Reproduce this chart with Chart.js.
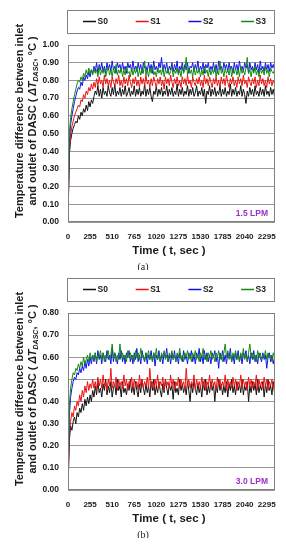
<!DOCTYPE html>
<html>
<head>
<meta charset="utf-8">
<script src="https://cdn.jsdelivr.net/npm/chart.js@4.4.1/dist/chart.umd.min.js"></script>
<style>
    html, body { margin: 0; padding: 0; background: #fff; }
    body { width: 286px; height: 550px; position: relative; overflow: hidden; }
    .panel { position: absolute; left: 0; width: 286px; height: 270px; }
</style>
</head>
<body>
<div class="panel" style="top:0"><canvas id="chartA" width="286" height="270"></canvas></div>
<div class="panel" style="top:268px"><canvas id="chartB" width="286" height="270"></canvas></div>
<script>
// Time axis (sec), shared by both panels
const timeSec = [
    0, 15, 30, 45, 60, 75, 90, 105, 120, 135,
    150, 165, 180, 195, 210, 225, 240, 255, 270, 285,
    300, 315, 330, 345, 360, 375, 390, 405, 420, 435,
    450, 465, 480, 495, 510, 525, 540, 555, 570, 585,
    600, 615, 630, 645, 660, 675, 690, 705, 720, 735,
    750, 765, 780, 795, 810, 825, 840, 855, 870, 885,
    900, 915, 930, 945, 960, 975, 990, 1005, 1020, 1035,
    1050, 1065, 1080, 1095, 1110, 1125, 1140, 1155, 1170, 1185,
    1200, 1215, 1230, 1245, 1260, 1275, 1290, 1305, 1320, 1335,
    1350, 1365, 1380, 1395, 1410, 1425, 1440, 1455, 1470, 1485,
    1500, 1515, 1530, 1545, 1560, 1575, 1590, 1605, 1620, 1635,
    1650, 1665, 1680, 1695, 1710, 1725, 1740, 1755, 1770, 1785,
    1800, 1815, 1830, 1845, 1860, 1875, 1890, 1905, 1920, 1935,
    1950, 1965, 1980, 1995, 2010, 2025, 2040, 2055, 2070, 2085,
    2100, 2115, 2130, 2145, 2160, 2175, 2190, 2205, 2220, 2235,
    2250, 2265, 2280, 2295, 2310, 2325, 2340, 2355, 2370, 2385
];
const seriesNames = ['S0', 'S1', 'S2', 'S3'];
const seriesColors = ['#111111', '#ee1111', '#1111ee', '#138a13'];
const xTickStep = 255;

// (a) 1.5 LPM
const lpm15S0 = [
    0, 0.38, 0.46, 0.50, 0.53, 0.55, 0.57, 0.56, 0.60, 0.58,
    0.62, 0.60, 0.64, 0.62, 0.66, 0.63, 0.68, 0.65, 0.69, 0.67,
    0.71, 0.74, 0.72, 0.77, 0.71, 0.75, 0.70, 0.76, 0.72, 0.74,
    0.71, 0.77, 0.73, 0.71, 0.76, 0.72, 0.78, 0.71, 0.74, 0.72,
    0.76, 0.71, 0.75, 0.72, 0.77, 0.71, 0.73, 0.76, 0.71, 0.74,
    0.72, 0.77, 0.71, 0.75, 0.72, 0.76, 0.71, 0.74, 0.72, 0.78,
    0.71, 0.75, 0.72, 0.76, 0.71, 0.68, 0.74, 0.72, 0.77, 0.71,
    0.75, 0.72, 0.76, 0.71, 0.74, 0.72, 0.77, 0.71, 0.75, 0.72,
    0.76, 0.71, 0.74, 0.72, 0.78, 0.71, 0.75, 0.72, 0.76, 0.71,
    0.74, 0.72, 0.77, 0.71, 0.75, 0.72, 0.76, 0.71, 0.73, 0.77,
    0.71, 0.74, 0.72, 0.76, 0.71, 0.75, 0.67, 0.74, 0.72, 0.77,
    0.71, 0.75, 0.72, 0.76, 0.71, 0.74, 0.72, 0.77, 0.71, 0.75,
    0.72, 0.76, 0.71, 0.74, 0.72, 0.78, 0.71, 0.75, 0.72, 0.76,
    0.71, 0.74, 0.72, 0.77, 0.71, 0.75, 0.72, 0.67, 0.74, 0.71,
    0.76, 0.72, 0.75, 0.71, 0.77, 0.72, 0.74, 0.71, 0.76, 0.72,
    0.75, 0.71, 0.77, 0.72, 0.74, 0.71, 0.76, 0.72, 0.75, 0.71
];
const lpm15S1 = [
    0, 0.40, 0.49, 0.54, 0.57, 0.60, 0.62, 0.64, 0.66, 0.65,
    0.69, 0.68, 0.72, 0.70, 0.74, 0.72, 0.76, 0.74, 0.78, 0.75,
    0.79, 0.76, 0.81, 0.77, 0.82, 0.78, 0.80, 0.76, 0.83, 0.78,
    0.81, 0.77, 0.80, 0.76, 0.82, 0.79, 0.77, 0.81, 0.78, 0.83,
    0.77, 0.80, 0.76, 0.82, 0.78, 0.81, 0.77, 0.83, 0.79, 0.76,
    0.81, 0.78, 0.82, 0.77, 0.80, 0.76, 0.82, 0.78, 0.81, 0.77,
    0.83, 0.78, 0.80, 0.76, 0.81, 0.77, 0.82, 0.79, 0.76, 0.81,
    0.78, 0.82, 0.77, 0.80, 0.75, 0.82, 0.78, 0.81, 0.77, 0.83,
    0.79, 0.76, 0.81, 0.78, 0.82, 0.77, 0.80, 0.76, 0.82, 0.78,
    0.81, 0.77, 0.83, 0.78, 0.80, 0.76, 0.82, 0.79, 0.77, 0.81,
    0.78, 0.82, 0.77, 0.80, 0.76, 0.83, 0.78, 0.81, 0.77, 0.82,
    0.79, 0.76, 0.81, 0.78, 0.82, 0.77, 0.80, 0.76, 0.82, 0.78,
    0.81, 0.77, 0.83, 0.79, 0.76, 0.81, 0.78, 0.82, 0.77, 0.80,
    0.76, 0.82, 0.78, 0.81, 0.77, 0.83, 0.78, 0.80, 0.76, 0.82,
    0.79, 0.77, 0.81, 0.78, 0.82, 0.76, 0.80, 0.77, 0.83, 0.78,
    0.81, 0.77, 0.80, 0.76, 0.82, 0.78, 0.81, 0.77, 0.80, 0.78
];
const lpm15S2 = [
    0, 0.45, 0.55, 0.60, 0.64, 0.68, 0.71, 0.74, 0.76, 0.75,
    0.79, 0.77, 0.82, 0.80, 0.83, 0.81, 0.85, 0.82, 0.86, 0.84,
    0.88, 0.85, 0.90, 0.84, 0.89, 0.86, 0.90, 0.85, 0.88, 0.84,
    0.90, 0.86, 0.89, 0.85, 0.91, 0.86, 0.88, 0.84, 0.90, 0.87,
    0.89, 0.85, 0.90, 0.86, 0.88, 0.84, 0.90, 0.87, 0.89, 0.85,
    0.91, 0.86, 0.88, 0.85, 0.90, 0.86, 0.89, 0.84, 0.90, 0.87,
    0.88, 0.85, 0.90, 0.86, 0.89, 0.84, 0.91, 0.86, 0.88, 0.85,
    0.90, 0.87, 0.93, 0.85, 0.89, 0.86, 0.90, 0.84, 0.88, 0.86,
    0.90, 0.85, 0.89, 0.86, 0.91, 0.84, 0.88, 0.86, 0.90, 0.85,
    0.89, 0.86, 0.90, 0.84, 0.88, 0.87, 0.90, 0.85, 0.89, 0.86,
    0.91, 0.85, 0.88, 0.86, 0.90, 0.84, 0.89, 0.87, 0.90, 0.85,
    0.88, 0.86, 0.90, 0.85, 0.89, 0.84, 0.91, 0.86, 0.88, 0.85,
    0.90, 0.87, 0.89, 0.85, 0.90, 0.86, 0.88, 0.84, 0.90, 0.86,
    0.89, 0.85, 0.91, 0.86, 0.88, 0.85, 0.90, 0.87, 0.89, 0.84,
    0.90, 0.86, 0.88, 0.85, 0.90, 0.86, 0.89, 0.84, 0.91, 0.86,
    0.88, 0.85, 0.90, 0.86, 0.89, 0.85, 0.90, 0.87, 0.89, 0.86
];
const lpm15S3 = [
    0, 0.50, 0.59, 0.64, 0.68, 0.72, 0.75, 0.78, 0.80, 0.79,
    0.82, 0.80, 0.84, 0.82, 0.86, 0.83, 0.87, 0.84, 0.86, 0.83,
    0.87, 0.84, 0.86, 0.82, 0.88, 0.83, 0.86, 0.84, 0.87, 0.82,
    0.85, 0.88, 0.83, 0.86, 0.82, 0.87, 0.84, 0.89, 0.83, 0.86,
    0.84, 0.87, 0.82, 0.86, 0.83, 0.88, 0.84, 0.85, 0.82, 0.87,
    0.83, 0.86, 0.84, 0.88, 0.82, 0.86, 0.83, 0.87, 0.84, 0.91,
    0.83, 0.86, 0.82, 0.87, 0.84, 0.88, 0.83, 0.85, 0.82, 0.87,
    0.84, 0.86, 0.83, 0.88, 0.82, 0.86, 0.84, 0.87, 0.83, 0.85,
    0.88, 0.82, 0.86, 0.84, 0.87, 0.83, 0.86, 0.82, 0.88, 0.84,
    0.86, 0.93, 0.83, 0.87, 0.84, 0.86, 0.82, 0.88, 0.83, 0.86,
    0.84, 0.87, 0.82, 0.86, 0.83, 0.88, 0.84, 0.86, 0.82, 0.87,
    0.83, 0.86, 0.84, 0.88, 0.82, 0.86, 0.83, 0.91, 0.84, 0.86,
    0.82, 0.87, 0.84, 0.86, 0.83, 0.88, 0.82, 0.86, 0.84, 0.87,
    0.83, 0.86, 0.82, 0.88, 0.84, 0.86, 0.83, 0.87, 0.93, 0.84,
    0.86, 0.82, 0.87, 0.84, 0.88, 0.83, 0.86, 0.82, 0.87, 0.84,
    0.86, 0.83, 0.88, 0.84, 0.86, 0.82, 0.87, 0.85, 0.84, 0.86
];

// (b) 3.0 LPM
const lpm30S0 = [
    0, 0.22, 0.29, 0.27, 0.31, 0.33, 0.30, 0.35, 0.33, 0.37,
    0.35, 0.39, 0.36, 0.41, 0.38, 0.42, 0.39, 0.43, 0.40, 0.45,
    0.42, 0.47, 0.43, 0.49, 0.44, 0.46, 0.42, 0.48, 0.45, 0.50,
    0.43, 0.47, 0.44, 0.49, 0.42, 0.46, 0.48, 0.43, 0.50, 0.45,
    0.47, 0.42, 0.49, 0.44, 0.46, 0.43, 0.48, 0.45, 0.50, 0.44,
    0.47, 0.43, 0.49, 0.45, 0.42, 0.48, 0.44, 0.50, 0.46, 0.43,
    0.48, 0.44, 0.47, 0.42, 0.49, 0.45, 0.50, 0.43, 0.47, 0.44,
    0.49, 0.45, 0.42, 0.48, 0.44, 0.50, 0.46, 0.43, 0.48, 0.45,
    0.47, 0.41, 0.49, 0.44, 0.46, 0.43, 0.50, 0.45, 0.48, 0.44,
    0.47, 0.43, 0.49, 0.45, 0.40, 0.48, 0.44, 0.50, 0.46, 0.43,
    0.48, 0.44, 0.47, 0.42, 0.49, 0.45, 0.50, 0.43, 0.47, 0.44,
    0.49, 0.45, 0.48, 0.40, 0.47, 0.44, 0.50, 0.45, 0.48, 0.43,
    0.47, 0.44, 0.49, 0.42, 0.48, 0.45, 0.50, 0.44, 0.47, 0.43,
    0.49, 0.45, 0.48, 0.44, 0.50, 0.43, 0.47, 0.45, 0.49, 0.40,
    0.47, 0.44, 0.49, 0.45, 0.48, 0.43, 0.50, 0.44, 0.47, 0.45,
    0.49, 0.42, 0.48, 0.44, 0.50, 0.45, 0.47, 0.43, 0.49, 0.44
];
const lpm30S1 = [
    0, 0.25, 0.31, 0.35, 0.33, 0.38, 0.36, 0.40, 0.38, 0.43,
    0.40, 0.45, 0.42, 0.47, 0.44, 0.49, 0.45, 0.48, 0.46, 0.50,
    0.46, 0.49, 0.45, 0.51, 0.47, 0.50, 0.46, 0.52, 0.47, 0.49,
    0.45, 0.50, 0.47, 0.55, 0.46, 0.49, 0.47, 0.51, 0.45, 0.50,
    0.47, 0.49, 0.46, 0.52, 0.47, 0.50, 0.45, 0.49, 0.47, 0.51,
    0.46, 0.50, 0.47, 0.49, 0.45, 0.52, 0.47, 0.50, 0.46, 0.49,
    0.47, 0.51, 0.46, 0.55, 0.47, 0.49, 0.45, 0.50, 0.47, 0.52,
    0.46, 0.49, 0.47, 0.51, 0.45, 0.50, 0.47, 0.49, 0.46, 0.52,
    0.47, 0.50, 0.45, 0.49, 0.47, 0.51, 0.46, 0.50, 0.47, 0.49,
    0.45, 0.55, 0.47, 0.50, 0.46, 0.49, 0.47, 0.52, 0.45, 0.50,
    0.47, 0.49, 0.46, 0.51, 0.47, 0.50, 0.45, 0.49, 0.47, 0.52,
    0.46, 0.50, 0.47, 0.49, 0.45, 0.51, 0.47, 0.50, 0.46, 0.49,
    0.47, 0.52, 0.45, 0.50, 0.47, 0.49, 0.46, 0.51, 0.47, 0.50,
    0.45, 0.49, 0.47, 0.52, 0.46, 0.50, 0.47, 0.49, 0.45, 0.51,
    0.47, 0.50, 0.46, 0.49, 0.47, 0.52, 0.45, 0.50, 0.47, 0.49,
    0.46, 0.51, 0.47, 0.50, 0.45, 0.49, 0.47, 0.50, 0.46, 0.49
];
const lpm30S2 = [
    0, 0.33, 0.42, 0.46, 0.49, 0.51, 0.50, 0.53, 0.52, 0.55,
    0.53, 0.56, 0.54, 0.58, 0.55, 0.59, 0.56, 0.60, 0.57, 0.61,
    0.58, 0.62, 0.57, 0.63, 0.59, 0.61, 0.57, 0.62, 0.60, 0.58,
    0.63, 0.59, 0.61, 0.57, 0.64, 0.58, 0.62, 0.60, 0.57, 0.62,
    0.59, 0.63, 0.58, 0.61, 0.57, 0.62, 0.60, 0.63, 0.58, 0.61,
    0.57, 0.62, 0.59, 0.64, 0.58, 0.61, 0.57, 0.63, 0.60, 0.58,
    0.62, 0.57, 0.61, 0.59, 0.63, 0.58, 0.62, 0.56, 0.61, 0.59,
    0.63, 0.58, 0.61, 0.57, 0.62, 0.60, 0.64, 0.58, 0.61, 0.57,
    0.62, 0.59, 0.63, 0.58, 0.61, 0.57, 0.62, 0.60, 0.58, 0.63,
    0.59, 0.61, 0.57, 0.62, 0.60, 0.63, 0.58, 0.61, 0.57, 0.62,
    0.60, 0.64, 0.58, 0.61, 0.57, 0.63, 0.59, 0.62, 0.58, 0.61,
    0.57, 0.62, 0.60, 0.63, 0.58, 0.61, 0.55, 0.62, 0.59, 0.63,
    0.58, 0.61, 0.57, 0.62, 0.60, 0.64, 0.58, 0.61, 0.57, 0.62,
    0.59, 0.63, 0.58, 0.61, 0.57, 0.62, 0.60, 0.63, 0.58, 0.61,
    0.57, 0.62, 0.59, 0.63, 0.58, 0.61, 0.57, 0.62, 0.60, 0.58,
    0.62, 0.59, 0.61, 0.55, 0.60, 0.62, 0.58, 0.61, 0.57, 0.60
];
const lpm30S3 = [
    0, 0.38, 0.46, 0.50, 0.53, 0.52, 0.55, 0.54, 0.57, 0.55,
    0.58, 0.56, 0.60, 0.57, 0.59, 0.61, 0.58, 0.62, 0.59, 0.61,
    0.59, 0.62, 0.58, 0.61, 0.60, 0.63, 0.59, 0.62, 0.58, 0.61,
    0.60, 0.63, 0.59, 0.61, 0.66, 0.60, 0.62, 0.58, 0.61, 0.59,
    0.66, 0.60, 0.62, 0.59, 0.61, 0.58, 0.63, 0.60, 0.62, 0.59,
    0.61, 0.58, 0.63, 0.60, 0.62, 0.59, 0.64, 0.60, 0.61, 0.58,
    0.62, 0.60, 0.63, 0.59, 0.61, 0.58, 0.62, 0.60, 0.64, 0.59,
    0.61, 0.58, 0.62, 0.60, 0.63, 0.59, 0.61, 0.58, 0.62, 0.60,
    0.63, 0.59, 0.61, 0.58, 0.62, 0.60, 0.64, 0.59, 0.61, 0.58,
    0.62, 0.60, 0.63, 0.59, 0.61, 0.58, 0.62, 0.60, 0.63, 0.59,
    0.61, 0.58, 0.62, 0.60, 0.64, 0.59, 0.61, 0.58, 0.62, 0.60,
    0.63, 0.59, 0.61, 0.58, 0.62, 0.60, 0.63, 0.59, 0.61, 0.58,
    0.62, 0.66, 0.60, 0.63, 0.59, 0.61, 0.58, 0.62, 0.60, 0.63,
    0.59, 0.61, 0.58, 0.62, 0.60, 0.64, 0.59, 0.61, 0.58, 0.62,
    0.66, 0.60, 0.62, 0.59, 0.61, 0.58, 0.63, 0.60, 0.62, 0.59,
    0.61, 0.60, 0.63, 0.59, 0.62, 0.60, 0.61, 0.58, 0.62, 0.60
];

const FONT = '"Liberation Sans", Arial, sans-serif';
const TEXT = '#1a1a1a';

// Draws the legend box, frame, axis titles and labels
function decorPlugin(flowText, panelText) {
    return {
        id: 'decor',
        afterDraw(chart) {
            const ctx = chart.ctx;
            const area = chart.chartArea;
            ctx.save();

            // plot frame
            ctx.strokeStyle = '#808080';
            ctx.lineWidth = 1;
            ctx.strokeRect(area.left + 0.5, area.top + 0.5, area.right - area.left - 1, area.bottom - area.top - 1);

            // legend box
            ctx.strokeRect(area.left - 0.5, 10.5, area.right - area.left, 23);
            ctx.font = 'bold 8.5px ' + FONT;
            ctx.textBaseline = 'middle';
            ctx.textAlign = 'left';
            seriesNames.forEach((name, i) => {
                const x = area.left + 15 + i * 52.7;
                ctx.strokeStyle = seriesColors[i];
                ctx.lineWidth = 1.5;
                ctx.beginPath();
                ctx.moveTo(x, 21.5);
                ctx.lineTo(x + 13, 21.5);
                ctx.stroke();
                ctx.fillStyle = TEXT;
                ctx.fillText(name, x + 14.5, 22);
            });

            // flow rate tag
            ctx.fillStyle = '#9b30c8';
            ctx.font = 'bold 8.5px ' + FONT;
            ctx.textAlign = 'right';
            ctx.fillText(flowText, area.right - 7, area.bottom - 8);

            // x title
            ctx.fillStyle = TEXT;
            ctx.textAlign = 'center';
            ctx.font = 'bold 11.5px ' + FONT;
            ctx.fillText('Time ( t, sec )', 169, area.bottom + 29);

            // panel letter
            ctx.font = '10px "Liberation Serif", "Times New Roman", serif';
            ctx.fillText(panelText, 143, area.bottom + 45);

            // y title, line 1
            ctx.save();
            ctx.translate(19.5, 121);
            ctx.rotate(-Math.PI / 2);
            ctx.font = 'bold 11px ' + FONT;
            ctx.textAlign = 'center';
            ctx.fillText('Temperature difference between inlet', 0, 0);
            ctx.restore();

            // y title, line 2 with subscript
            const parts = [
                ['and outlet of DASC ( ', 'bold 11px ' + FONT, 0],
                ['\u0394T', 'italic bold 11px ' + FONT, 0],
                ['DASC', 'italic bold 7px ' + FONT, 3],
                [', \u00B0C )', 'bold 11px ' + FONT, 0]
            ];
            ctx.save();
            ctx.translate(33, 121);
            ctx.rotate(-Math.PI / 2);
            ctx.textAlign = 'left';
            let total = 0;
            parts.forEach(p => { ctx.font = p[1]; total += ctx.measureText(p[0]).width; });
            let cx = -total / 2;
            parts.forEach(p => {
                ctx.font = p[1];
                ctx.fillText(p[0], cx, p[2]);
                cx += ctx.measureText(p[0]).width;
            });
            ctx.restore();

            ctx.restore();
        }
    };
}

function makeChart(canvasId, series, yMax, flowText, panelText) {
    const datasets = series.map((values, i) => ({
        label: seriesNames[i],
        data: timeSec.map((t, k) => ({ x: t, y: values[k] })),
        borderColor: seriesColors[i],
        borderWidth: 1,
        pointRadius: 0,
        tension: 0,
        fill: false,
        order: series.length - 1 - i
    }));

    return new Chart(document.getElementById(canvasId), {
        type: 'line',
        data: { datasets: datasets },
        options: {
            responsive: false,
            animation: false,
            events: [],
            layout: { padding: { top: 45, right: 9, bottom: 0, left: 0 } },
            plugins: {
                legend: { display: false },
                tooltip: { enabled: false }
            },
            scales: {
                x: {
                    type: 'linear',
                    min: 0,
                    max: 2390,
                    grid: { display: false, drawTicks: false },
                    border: { display: false },
                    ticks: {
                        stepSize: xTickStep,
                        includeBounds: false,
                        autoSkip: false,
                        maxRotation: 0,
                        minRotation: 0,
                        padding: 10,
                        color: TEXT,
                        font: { family: FONT, size: 8, weight: 'bold' },
                        callback: function (value) {
                            return String(value);
                        }
                    },
                    afterBuildTicks: function (scale) {
                        scale.ticks = scale.ticks.filter(t => t.value % xTickStep === 0);
                    },
                    afterFit: function (scale) {
                        scale.height = 48;
                    }
                },
                y: {
                    min: 0,
                    max: yMax,
                    grid: { color: '#999999', drawTicks: false },
                    border: { display: false },
                    ticks: {
                        stepSize: 0.1,
                        padding: 9,
                        color: TEXT,
                        font: { family: FONT, size: 8.5, weight: 'bold' },
                        callback: function (value) {
                            return value.toFixed(2);
                        }
                    },
                    afterFit: function (scale) {
                        scale.width = 68;
                    }
                }
            }
        },
        plugins: [decorPlugin(flowText, panelText)]
    });
}

makeChart('chartA', [lpm15S0, lpm15S1, lpm15S2, lpm15S3], 1.0, '1.5 LPM', '(a)');
makeChart('chartB', [lpm30S0, lpm30S1, lpm30S2, lpm30S3], 0.8, '3.0 LPM', '(b)');
</script>
</body>
</html>
